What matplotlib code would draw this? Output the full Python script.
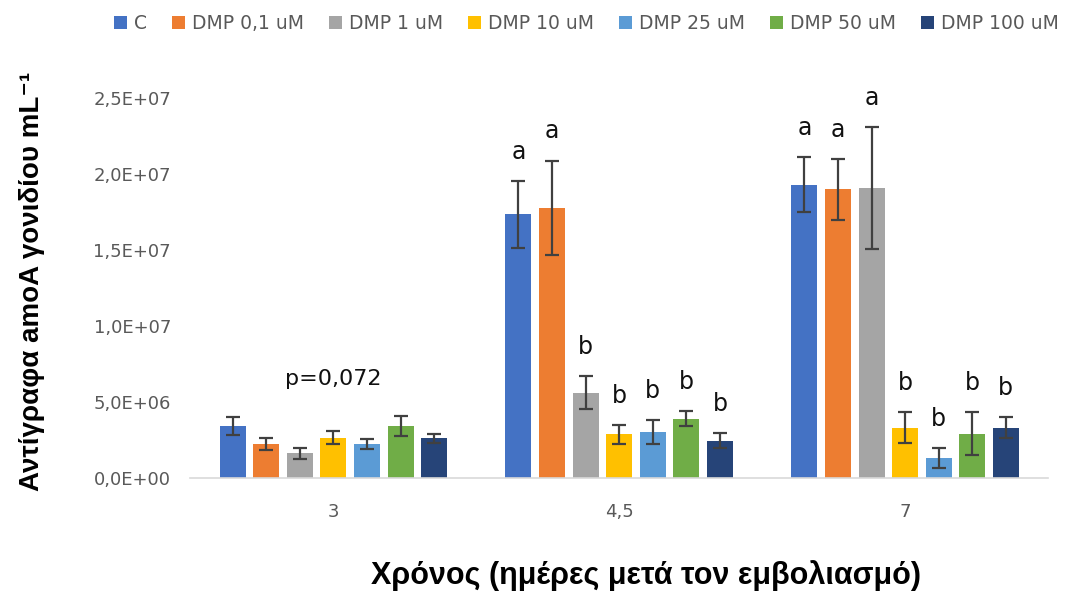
import numpy as np
from matplotlib import pyplot as plt

# days after inoculation
days = ['3', '4,5', '7']
series = ['C', 'DMP 0,1 uM', 'DMP 1 uM', 'DMP 10 uM', 'DMP 25 uM', 'DMP 50 uM', 'DMP 100 uM']
colors = ['#4472C4', '#ED7D31', '#A5A5A5', '#FFC000', '#5B9BD5', '#70AD47', '#264478']

# amoA copies per mL, one list per day (same order as series)
vals_d3 = [3.4e6, 2.2e6, 1.6e6, 2.65e6, 2.2e6, 3.4e6, 2.6e6]
vals_d45 = [1.735e7, 1.78e7, 5.6e6, 2.85e6, 3.0e6, 3.9e6, 2.45e6]
vals_d7 = [1.93e7, 1.9e7, 1.91e7, 3.3e6, 1.3e6, 2.9e6, 3.3e6]

err_d3 = [6.0e5, 4.0e5, 3.5e5, 4.0e5, 3.3e5, 6.5e5, 3.0e5]
err_d45 = [2.2e6, 3.1e6, 1.1e6, 6.0e5, 8.0e5, 4.7e5, 5.0e5]
err_d7 = [1.8e6, 2.0e6, 4.0e6, 1.0e6, 6.6e5, 1.4e6, 7.0e5]

letters_d45 = ['a', 'a', 'b', 'b', 'b', 'b', 'b']
letters_d7 = ['a', 'a', 'a', 'b', 'b', 'b', 'b']
p_text = 'p=0,072'
p_y = 6.5e6

vals = np.array([vals_d3, vals_d45, vals_d7])
errs = np.array([err_d3, err_d45, err_d7])
letters = [None, letters_d45, letters_d7]

fig = plt.figure(figsize=(10.76, 5.92), dpi=100)
ax = fig.add_axes([0.177, 0.193, 0.797, 0.641])

x = np.arange(len(days))
pitch = 0.1175
width = 0.091
n = len(series)
for i in range(n):
    xs = x + (i - (n - 1) / 2) * pitch
    ax.bar(xs, vals[:, i], width, color=colors[i], label=series[i], zorder=2)
    ax.errorbar(xs, vals[:, i], yerr=errs[:, i], fmt='none', ecolor='#404040',
                elinewidth=1.6, capsize=5, capthick=1.6, zorder=3)
    for g in range(len(days)):
        if letters[g] is None:
            continue
        ax.annotate(letters[g][i], (xs[g], vals[g, i] + errs[g, i]),
                    xytext=(0, 21), textcoords='offset points',
                    ha='center', va='center', fontsize=17, color='#111111',
                    annotation_clip=False)

ax.text(x[0], p_y, p_text, ha='center', va='center', fontsize=16, color='#111111')

ax.set_xlim(-0.5, 2.5)
ax.set_ylim(0, 2.5e7)
ax.set_yticks(np.arange(0, 2.51e7, 5e6))
ax.set_yticklabels([('%.1E' % v).replace('.', ',') for v in np.arange(0, 2.51e7, 5e6)])
ax.set_xticks(x)
ax.set_xticklabels(days)
ax.tick_params(axis='both', length=0, labelsize=13, labelcolor='#595959')
ax.tick_params(axis='x', pad=18)
ax.tick_params(axis='y', pad=14)
for s in ['top', 'right', 'left']:
    ax.spines[s].set_visible(False)
ax.spines['bottom'].set_color('#D9D9D9')
ax.spines['bottom'].set_linewidth(1.2)

fig.text(0.03, 0.525, 'Αντίγραφα amoA γονιδίου mL⁻¹', rotation=90,
         ha='center', va='center', fontsize=20, fontweight='bold',
         family=['Liberation Sans', 'DejaVu Sans'])
fig.text(0.6, 0.028, 'Χρόνος (ημέρες μετά τον εμβολιασμό)', ha='center', va='center',
         fontsize=22, fontweight='bold', family=['Liberation Sans', 'DejaVu Sans'])

fig.legend(loc='upper center', bbox_to_anchor=(0.545, 1.005), ncol=7, frameon=False,
           fontsize=13.5, handlelength=0.7, handleheight=0.7, handletextpad=0.4,
           columnspacing=1.3, labelcolor='#595959')

fig.savefig('out.png', dpi=100)
